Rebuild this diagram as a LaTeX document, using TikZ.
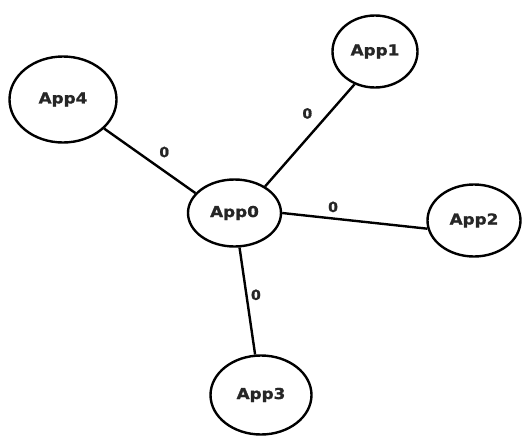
\documentclass[tikz,border=0pt]{standalone}
\usepackage{fontspec}
\usepackage{tikz}
\usetikzlibrary{shapes.geometric}
\usetikzlibrary{positioning}
\newfontfamily\appfont[FakeStretch=1.12,FakeBold=1.2]{DejaVu Sans Bold}
\newfontfamily\wtfont[FakeBold=1.2]{DejaVu Sans Bold}

\begin{document}
\begin{tikzpicture}[app/.style={ellipse, draw=black, line width=2.4pt, inner sep=0pt, text=black!85, font=\appfont\fontsize{15}{17}\selectfont}, wt/.style={inner sep=0pt, text=black!85, font=\wtfont\fontsize{14}{16}\selectfont}, line width=2.4pt, on grid]
		\useasboundingbox (0,0) rectangle (523pt,-437pt);
		\node[app, minimum width=93pt, minimum height=67pt] (app0) at (234.5pt,-213pt) {App0};
		\node[app, minimum width=85pt, minimum height=72pt] (app1) [above right=161.5pt and 140.5pt of app0] {App1};
		\node[app, minimum width=107pt, minimum height=86pt] (app4) [above left=113.5pt and 171.5pt of app0] {App4};
		\node[app, minimum width=93pt, minimum height=72pt] (app2) [below right=7.5pt and 239.5pt of app0] {App2};
		\node[app, minimum width=101pt, minimum height=79pt] (app3) [below right=182pt and 26.5pt of app0] {App3};

		\path
			(app0.153) edge node [wt, pos=0.44, xshift=9pt, yshift=12.7pt] {0} (app4)
			(app0.41) edge node [wt, pos=0.61, xshift=-12.3pt, yshift=10.7pt] {0} (app1.238)
			(app0.east) edge node [wt, pos=0.35, yshift=11.6pt] {0} (app2.190)
			(app0) edge node [wt, pos=0.455, xshift=9.3pt, yshift=1.4pt] {0} (app3);
\end{tikzpicture}
\end{document}
